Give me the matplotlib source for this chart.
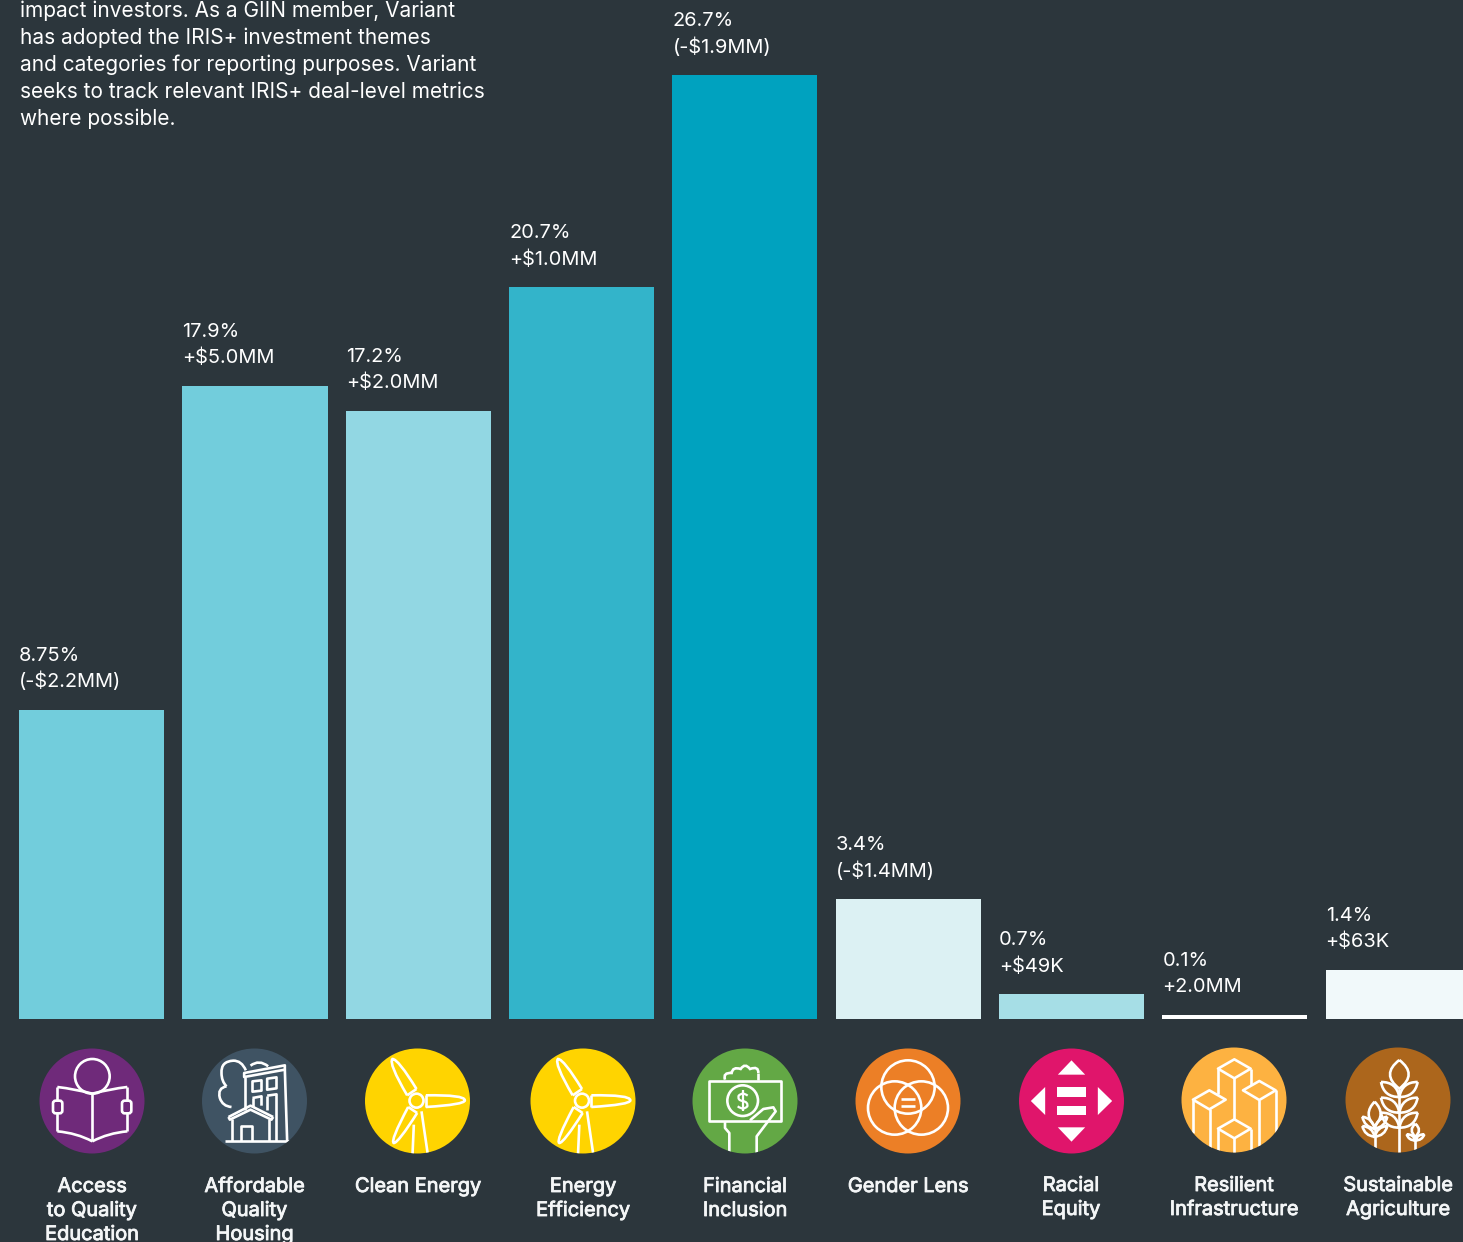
import matplotlib
import matplotlib.pyplot as plt
import matplotlib.patheffects as pe
from matplotlib.patches import Circle, Polygon, FancyBboxPatch, PathPatch
from matplotlib.path import Path
from matplotlib.transforms import Affine2D
matplotlib.use('Agg')

plt.rcParams['font.family'] = ['Inter', 'DejaVu Sans']

categories = ['Access\nto Quality\nEducation', 'Affordable\nQuality\nHousing', 'Clean Energy',
              'Energy\nEfficiency', 'Financial\nInclusion', 'Gender Lens',
              'Racial\nEquity', 'Resilient\nInfrastructure', 'Sustainable\nAgriculture']
shares = [8.75, 17.9, 17.2, 20.7, 26.7, 3.4, 0.7, 0.1, 1.4]
share_labels = ['8.75%', '17.9%', '17.2%', '20.7%', '26.7%', '3.4%', '0.7%', '0.1%', '1.4%']
changes = ['(-$2.2MM)', '+$5.0MM', '+$2.0MM', '+$1.0MM', '(-$1.9MM)', '(-$1.4MM)', '+$49K', '+2.0MM', '+$63K']
bar_colors = ['#72cddc', '#72cddc', '#92d7e3', '#33b4ca', '#00a2bf', '#dcf1f3', '#a6dee6', '#ffffff', '#f1f9fa']
icon_colors = ['#6f2a7a', '#3f5363', '#ffd400', '#ffd400', '#63a845', '#ec7f26', '#e0156b', '#fdb241', '#ac661c']
intro = ['impact investors. As a GIIN member, Variant', 'has adopted the IRIS+ investment themes',
         'and categories for reporting purposes. Variant', 'seeks to track relevant IRIS+ deal-level metrics',
         'where possible.']

BG = '#2c363c'
W, H = 1463, 1242
BASE = 1019
PX_PER_PCT = 35.35
PITCH = 163.3
X0 = 91.7

fig = plt.figure(figsize=(W / 100, H / 100), dpi=100, facecolor=BG)

# bars: x is the category index, y is the percentage
ax = fig.add_axes([0, 1 - BASE / H, 1, BASE / H])
ax.set_xlim(-X0 / PITCH, (W - X0) / PITCH)
ax.set_ylim(0, BASE / PX_PER_PCT)
ax.axis('off')
bars = ax.bar(range(len(shares)), shares, width=145 / PITCH, color=bar_colors, linewidth=0)
for i, b in enumerate(bars):
    for text, dy in ((share_labels[i], 54), (changes[i], 28)):
        ax.annotate(text, (b.get_x(), b.get_height()), xytext=(0, dy), textcoords='offset pixels',
                    ha='left', va='center', color='white', fontsize=14.4, clip_on=False,
                    annotation_clip=False)

# overlay in pixel coordinates for the intro text, icons and captions
ov = fig.add_axes([0, 0, 1, 1])
ov.set_xlim(0, W)
ov.set_ylim(H, 0)
ov.axis('off')
ov.patch.set_alpha(0)

for i, line in enumerate(intro):
    ov.text(19.5, 11 + 27 * i, line, color='white', fontsize=15.0, ha='left', va='center')

centers = [(92, 1101), (254.5, 1101), (417.5, 1101), (583, 1101), (745, 1101),
           (908, 1101), (1071.5, 1101), (1234, 1100), (1398, 1100)]
label_x = [92, 254.5, 418, 583, 745, 908, 1071, 1234, 1398]
label_y = [1187, 1187, 1187, 1187, 1187, 1187, 1186, 1186, 1186]


class Icon:
    # icon parts are written in px*3 around the circle centre (same scale as a 3x crop)
    def __init__(self, center, color, origin):
        self.tr = Affine2D().translate(-origin[0], -origin[1]).scale(1 / 3).translate(*center) + ov.transData
        self.disc = Circle(center, 52.5, facecolor=color, edgecolor='none', transform=ov.transData)
        ov.add_patch(self.disc)

    def add(self, patch):
        patch.set_transform(self.tr)
        ov.add_patch(patch)
        patch.set_clip_path(self.disc)

    def line(self, pts, closed=False, lw=1.9):
        self.add(Polygon(pts, closed=closed, fill=False, edgecolor='white', linewidth=lw, joinstyle='round'))

    def circle(self, x, y, r, lw=1.9):
        self.add(Circle((x, y), r, fill=False, edgecolor='white', linewidth=lw))

    def solid(self, pts):
        self.add(Polygon(pts, closed=True, facecolor='white', edgecolor='none'))

    def curve(self, verts, lw=1.9):
        # verts: start, then (control, end) pairs
        codes = [Path.MOVETO] + [Path.CURVE3] * (len(verts) - 1)
        self.add(PathPatch(Path(verts, codes), fill=False, edgecolor='white', linewidth=lw))

    def leaf(self, a, b, w, lw=1.9):
        # pointed leaf between a and b, bulging w each side
        mx, my = (a[0] + b[0]) / 2, (a[1] + b[1]) / 2
        dx, dy = b[0] - a[0], b[1] - a[1]
        n = (dx ** 2 + dy ** 2) ** 0.5
        ox, oy = -dy / n * w * 2, dx / n * w * 2
        self.curve([a, (mx + ox, my + oy), b, (mx - ox, my - oy), a], lw)


def book(ic):
    ic.circle(277, 140, 52)
    ic.curve([(277, 192), (225, 178), (172, 172)])
    ic.curve([(277, 192), (330, 178), (382, 172)])
    ic.curve([(172, 305), (230, 310), (277, 335)])
    ic.curve([(382, 305), (325, 310), (277, 335)])
    ic.line([(172, 172), (172, 305)])
    ic.line([(382, 172), (382, 305)])
    ic.line([(277, 192), (277, 335)])
    for x in (164, 371):
        ic.add(FancyBboxPatch((x, 218), 18, 28, boxstyle='round,pad=5,rounding_size=8',
                              facecolor=icon_colors[0], edgecolor='white', linewidth=1.9))


def housing(ic):
    ic.curve([(738, 122), (725, 92), (700, 93), (663, 95), (665, 130), (665, 155), (680, 170)])
    ic.curve([(680, 170), (652, 175), (660, 205), (668, 230), (695, 232)])
    ic.curve([(752, 108), (778, 88), (805, 110)])
    ic.line([(733, 130), (855, 107), (855, 120), (733, 142)], closed=True)
    ic.line([(735, 142), (735, 240)])
    ic.line([(855, 120), (862, 335)])
    ic.line([(758, 155), (785, 152), (785, 183), (758, 186)], closed=True)
    ic.line([(802, 147), (830, 143), (830, 176), (802, 180)], closed=True)
    ic.line([(758, 205), (785, 200), (785, 228)])
    ic.line([(758, 205), (758, 232)])
    ic.line([(802, 198), (830, 194), (830, 335)])
    ic.line([(802, 198), (802, 240)])
    ic.line([(686, 262), (752, 228), (820, 262)])
    ic.line([(686, 262), (690, 270), (752, 240), (815, 270), (820, 262)])
    ic.line([(695, 268), (695, 335)])
    ic.line([(808, 268), (808, 335)])
    ic.line([(722, 335), (722, 290), (755, 290), (755, 335)])
    ic.line([(675, 335), (868, 335)])


def turbine(ic):
    ic.circle(1250, 213, 21)
    ic.curve([(1278, 197), (1395, 195), (1395, 212), (1395, 225), (1278, 232)])
    ic.line([(1278, 197), (1278, 232)])
    ic.curve([(1222, 197), (1165, 100), (1178, 88), (1195, 88), (1250, 178)])
    ic.line([(1222, 197), (1250, 178)])
    ic.curve([(1225, 232), (1170, 335), (1182, 340), (1195, 340), (1252, 250)])
    ic.line([(1225, 232), (1252, 250)])
    ic.line([(1242, 285), (1238, 375)])
    ic.line([(1265, 245), (1284, 375)])


def money(ic):
    ic.line([(626, 153), (843, 153), (843, 275), (626, 275)], closed=True)
    ic.circle(728, 213, 46)
    ic.curve([(743, 198), (728, 186), (716, 198), (712, 212), (728, 214),
              (745, 217), (742, 230), (730, 243), (713, 230)], lw=1.6)
    ic.line([(728, 182), (728, 244)], lw=1.6)
    ic.curve([(675, 150), (668, 128), (695, 130), (698, 110), (722, 118),
              (735, 98), (750, 118), (776, 108), (775, 130)])
    ic.line([(775, 130), (775, 150)])
    ic.line([(675, 277), (675, 295), (688, 310), (688, 375)])
    ic.line([(770, 375), (770, 320), (827, 245), (820, 233), (790, 238), (750, 272)])


def gender(ic):
    ic.circle(1225, 172, 80)
    ic.circle(1185, 235, 80)
    ic.circle(1265, 235, 80)
    ic.line([(1205, 208), (1245, 208)])
    ic.line([(1205, 228), (1245, 228)])


def racial(ic):
    ic.solid([(234, 135), (316, 135), (275, 92)])
    ic.solid([(234, 293), (316, 293), (275, 336)])
    ic.solid([(196, 172), (196, 256), (153, 214)])
    ic.solid([(354, 172), (354, 256), (397, 214)])
    ic.solid([(231, 173), (319, 173), (319, 201), (231, 201)])
    ic.solid([(231, 228), (319, 228), (319, 256), (231, 256)])


def city(ic):
    for top in ((763, 90), (838, 155), (688, 183), (763, 270)):
        x, y = top
        ic.line([(x - 49, y + 28), (x, y), (x + 49, y + 28), (x, y + 57)], closed=True)
    ic.line([(763, 147), (763, 270)])
    ic.line([(715, 118), (715, 195)])
    ic.line([(812, 118), (812, 168)])
    ic.line([(838, 212), (838, 350)])
    ic.line([(888, 183), (888, 320)])
    ic.line([(638, 212), (638, 310)])
    ic.line([(690, 240), (690, 365)])
    ic.line([(714, 298), (714, 375)])
    ic.line([(763, 327), (763, 375)])
    ic.line([(812, 298), (812, 375)])


def wheat(ic):
    ic.line([(1258, 178), (1258, 375)])
    ic.leaf((1258, 92), (1258, 178), 28)
    for y in (158, 205, 250):
        ic.leaf((1203, y), (1258, y + 45), 15)
        ic.leaf((1313, y), (1258, y + 45), 15)
    ic.line([(1184, 290), (1184, 360)])
    ic.leaf((1184, 217), (1184, 290), 18)
    ic.leaf((1147, 262), (1184, 298), 9)
    ic.leaf((1222, 262), (1184, 298), 9)
    ic.leaf((1147, 290), (1184, 322), 9)
    ic.leaf((1222, 290), (1184, 322), 9)
    ic.line([(1306, 330), (1306, 365)])
    ic.leaf((1306, 283), (1306, 322), 11)
    ic.leaf((1280, 315), (1306, 333), 6)
    ic.leaf((1333, 315), (1306, 333), 6)


drawers = [book, housing, turbine, turbine, money, gender, racial, city, wheat]
origins = [(276, 214), (764, 214), (1253, 214), (1253, 214), (735, 214),
           (1225, 214), (275, 214), (762, 212), (1254, 212)]

for i, name in enumerate(categories):
    drawers[i](Icon(centers[i], icon_colors[i], origins[i]))
    for j, line in enumerate(name.split('\n')):
        # a thin stroke thickens the regular weight to the medium look of the captions
        ov.text(label_x[i], label_y[i] + 24 * j, line, color='#f4f6f7', fontsize=14.4,
                ha='center', va='center',
                path_effects=[pe.withStroke(linewidth=0.6, foreground='#f4f6f7')])

fig.savefig('out.png', dpi=100, facecolor=BG)
plt.close(fig)
